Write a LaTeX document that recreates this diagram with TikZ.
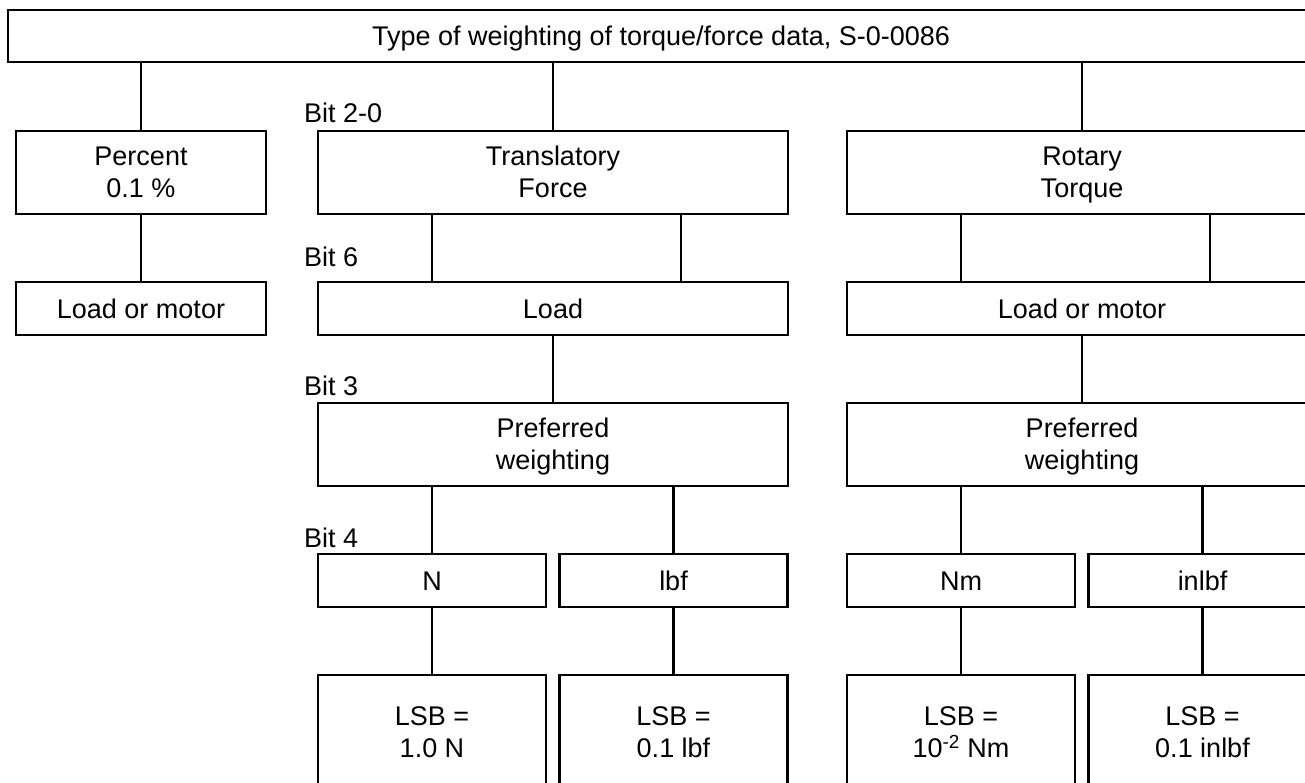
\documentclass[tikz,border=0pt]{standalone}
\usepackage{fontspec}
\setmainfont{Liberation Sans}
\begin{document}
\begin{tikzpicture}[x=1pt,y=-1pt,
  every node/.style={font=\fontsize{27}{32}\selectfont},
  box/.style={draw, line width=2.3pt, rectangle, inner sep=0pt, align=center,
    execute at begin node={\rule{0pt}{20pt}}, text depth=1pt},
  wide/.style={box, minimum width=470pt},
  half/.style={box, minimum width=228pt},
  tall/.style={minimum height=83pt},
  flat/.style={minimum height=53pt},
  lsb/.style={half, minimum height=116pt},
  link/.style={line width=2.3pt},
  bitlabel/.style={anchor=base west, inner sep=0pt}]
\clip (0,0) rectangle (1305,782);
\fill[white] (0,0) rectangle (1305,782);

% root
\node[box, minimum width=1306pt, minimum height=52pt] (top) at (661,36) {Type of weighting of torque/force data, S-0-0086};

% percent branch
\node[box, minimum width=250pt, tall] (pct) at (141,172.5) {Percent\\0.1 \%};
\node[box, minimum width=250pt, flat] (plm) at (141,308.5) {Load or motor};

% translatory branch
\node[wide, tall] (tr)  at (553,172.5) {Translatory\\Force};
\node[wide, flat] (ld)  at (553,308.5) {Load};
\node[wide, tall] (tpw) at (553,444.5) {Preferred\\weighting};
\node[half, flat] (tn)  at (432,580.5) {N};
\node[half, flat] (tl)  at (673.5,580.5) {lbf};
\node[lsb] (tsn) at (432,733) {LSB =\\1.0 N};
\node[lsb] (tsl) at (673.5,733) {LSB =\\0.1 lbf};

% rotary branch
\node[wide, tall] (ro)  at (1082,172.5) {Rotary\\Torque};
\node[wide, flat] (rlm) at (1082,308.5) {Load or motor};
\node[wide, tall] (rpw) at (1082,444.5) {Preferred\\weighting};
\node[half, flat] (rn)  at (961,580.5) {Nm};
\node[half, flat] (ri)  at (1202.5,580.5) {inlbf};
\node[lsb] (rsn) at (961,733) {LSB =\\10\textsuperscript{-2} Nm};
\node[lsb] (rsi) at (1202.5,733) {LSB =\\0.1 inlbf};

% bit labels
\node[bitlabel] (b20) at (304,122) {Bit 2-0};
\node[bitlabel] (b6)  at (304,266) {Bit 6};
\node[bitlabel] (b3)  at (304,395) {Bit 3};
\node[bitlabel] (b4)  at (304,547) {Bit 4};

% connectors
\draw[link] (pct.north |- top.south) -- (pct.north);
\draw[link] (tr.north |- top.south) -- (tr.north);
\draw[link] (ro.north |- top.south) -- (ro.north);
\draw[link] (pct.south) -- (plm.north);

\draw[link] ([xshift=-121pt]tr.south) -- ([xshift=-121pt]ld.north);
\draw[link] ([xshift=128pt]tr.south) -- ([xshift=128pt]ld.north);
\draw[link] (ld.south) -- (tpw.north);
\draw[link] (tn.north |- tpw.south) -- (tn.north);
\draw[link] (tl.north |- tpw.south) -- (tl.north);
\draw[link] (tn.south) -- (tsn.north);
\draw[link] (tl.south) -- (tsl.north);

\draw[link] ([xshift=-121pt]ro.south) -- ([xshift=-121pt]rlm.north);
\draw[link] ([xshift=128pt]ro.south) -- ([xshift=128pt]rlm.north);
\draw[link] (rlm.south) -- (rpw.north);
\draw[link] (rn.north |- rpw.south) -- (rn.north);
\draw[link] (ri.north |- rpw.south) -- (ri.north);
\draw[link] (rn.south) -- (rsn.north);
\draw[link] (ri.south) -- (rsi.north);
\end{tikzpicture}
\end{document}
